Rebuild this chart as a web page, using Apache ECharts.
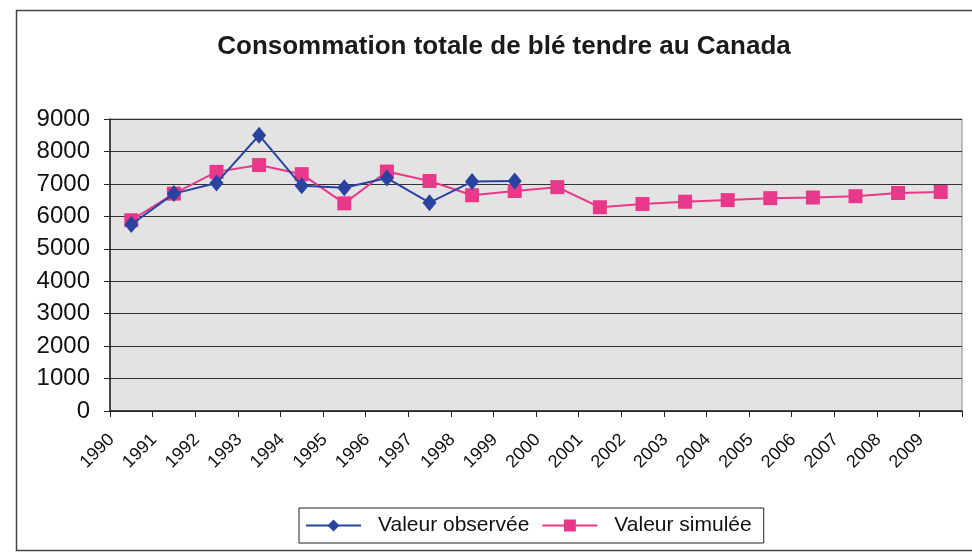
<!DOCTYPE html>
<html>
<head>
<meta charset="utf-8">
<script src="https://cdn.jsdelivr.net/npm/echarts@6/dist/echarts.min.js"></script>
<style>
  html, body { margin: 0; padding: 0; background: #fff; }
  #chart { width: 972px; height: 553px; }
</style>
</head>
<body>
<div id="chart"></div>
<script>
const years = ["1990", "1991", "1992", "1993", "1994", "1995", "1996", "1997", "1998", "1999",
  "2000", "2001", "2002", "2003", "2004", "2005", "2006", "2007", "2008", "2009"];
const observed = [5750, 6700, 7030, 8500, 6940, 6880, 7180, 6420, 7070, 7090];
const simulated = [5880, 6700, 7370, 7580, 7300, 6400, 7380, 7090, 6650, 6780,
  6900, 6280, 6380, 6450, 6500, 6560, 6580, 6620, 6720, 6750];

const chart = echarts.init(document.getElementById("chart"));
const option = {
  backgroundColor: "#fff",
  animation: false,
  textStyle: { fontFamily: "Liberation Sans, Arial, sans-serif", color: "#111" },
  // outer chart frame, as in the scanned Excel chart
  graphic: [
    {
      type: "rect",
      left: 14,
      top: 8,
      shape: { width: 980, height: 540 },
      style: { fill: null, stroke: "#444", lineWidth: 1.5 },
      silent: true,
      z: -1,
    },
  ],
  title: {
    text: "Consommation totale de blé tendre au Canada",
    left: 499,
    top: 29,
    textAlign: "center",
    textStyle: { fontSize: 26, fontWeight: "bold", color: "#1a1a1a" },
  },
  legend: {
    left: 299,
    top: 508,
    itemWidth: 55,
    itemHeight: 15,
    itemGap: 12,
    padding: [7, 12, 7, 6],
    borderColor: "#222",
    borderWidth: 1,
    borderRadius: 0,
    textStyle: { fontSize: 21, color: "#111", padding: [0, 0, 0, 12] },
    data: ["Valeur observée", "Valeur simulée"],
  },
  grid: {
    left: 110,
    right: 10,
    top: 119,
    bottom: 142,
    show: true,
    backgroundColor: "#e4e3e4",
    borderColor: "#888",
    borderWidth: 1,
  },
  xAxis: {
    type: "category",
    data: years,
    boundaryGap: true,
    axisLine: { lineStyle: { color: "#222", width: 1.5 } },
    axisTick: { show: true, length: 6, lineStyle: { color: "#222" } },
    axisLabel: { rotate: 45, fontSize: 18, color: "#111", margin: 6, padding: [0, 28, 0, 0] },
  },
  yAxis: {
    type: "value",
    min: 0,
    max: 9000,
    interval: 1000,
    axisLine: { show: true, lineStyle: { color: "#222", width: 1.5 } },
    axisTick: { show: true, length: 6, lineStyle: { color: "#222" } },
    axisLabel: { fontSize: 24, color: "#111", margin: 20, formatter: (v) => String(v) },
    splitLine: { lineStyle: { color: "#333", width: 1 } },
  },
  series: [
    {
      name: "Valeur observée",
      type: "line",
      data: observed,
      color: "#2a42a0",
      symbol: "diamond",
      symbolSize: [14, 17],
      lineStyle: { width: 2 },
      z: 3,
    },
    {
      name: "Valeur simulée",
      type: "line",
      data: simulated,
      color: "#e8388a",
      symbol: "rect",
      symbolSize: 14,
      lineStyle: { width: 2 },
      z: 2,
    },
  ],
};
chart.setOption(option);
</script>
</body>
</html>
